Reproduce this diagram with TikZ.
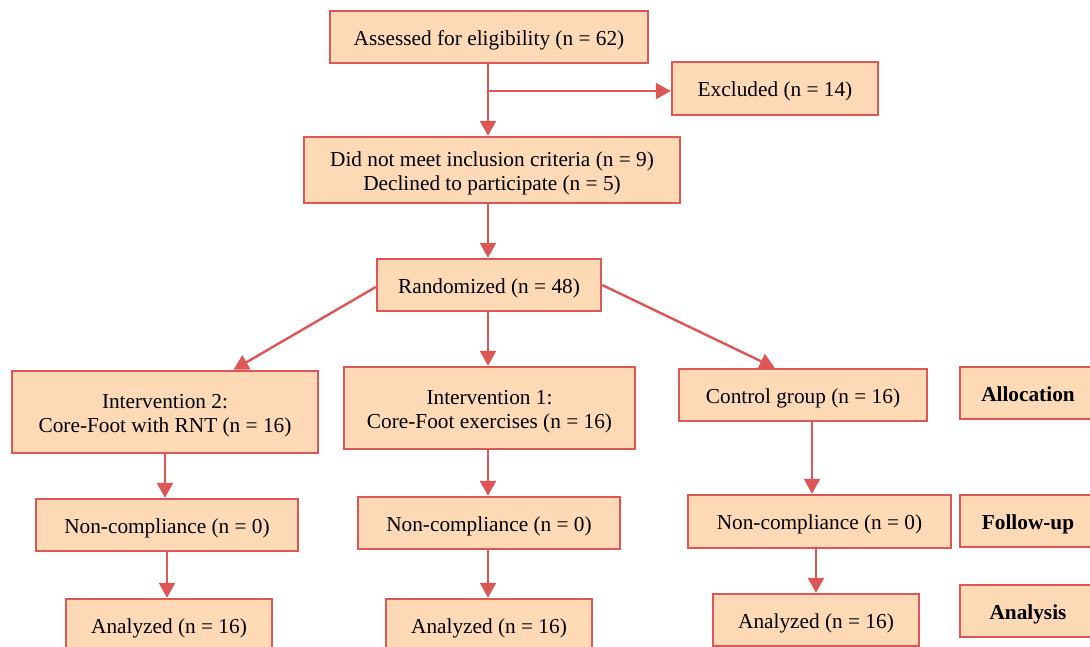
\documentclass[tikz,border=0pt]{standalone}
\usepackage{fontspec}
\setmainfont{Liberation Serif}
\usetikzlibrary{arrows.meta,calc}
\definecolor{boxfill}{HTML}{FDD9B6}
\definecolor{boxline}{HTML}{DE5656}
\newcommand\lw[1]{\raisebox{-3.5pt}[\height][\depth]{\begin{tabular}{@{}c@{}}#1\end{tabular}}}
\tikzset{
  box/.style={draw=boxline, fill=boxfill, line width=2.4pt, inner sep=0pt,
    font=\fontsize{21.3}{24.5}\selectfont},
  lab/.style={box, font=\fontsize{21.3}{24.5}\selectfont\bfseries},
  arr/.style={draw=boxline, line width=2.4pt, -{Triangle[length=15pt,width=16pt]}},
}
\begin{document}
\begin{tikzpicture}[x=1pt,y=-1pt]
\path[use as bounding box, clip] (0,0) rectangle (1090,646);
\node[box, minimum width=318pt, minimum height=52pt] (assess) at (489,37) {\lw{Assessed for eligibility (n = 62)}};
\node[box, minimum width=206pt, minimum height=53pt] (excl) at (775,88.5) {\lw{Excluded (n = 14)}};
\node[box, minimum width=376pt, minimum height=66pt] (dnm) at (492,170) {\lw{Did not meet inclusion criteria (n = 9)\\Declined to participate (n = 5)}};
\node[box, minimum width=224pt, minimum height=52pt] (rand) at (489,285) {\lw{Randomized (n = 48)}};
\node[box, minimum width=306pt, minimum height=82pt] (int2) at (165,412) {\lw{Intervention 2:\\Core-Foot with RNT (n = 16)}};
\node[box, minimum width=291pt, minimum height=82pt] (int1) at (489.5,408) {\lw{Intervention 1:\\Core-Foot exercises (n = 16)}};
\node[box, minimum width=248pt, minimum height=52pt] (ctrl) at (803,395) {\lw{Control group (n = 16)}};
\node[lab, minimum width=136pt, minimum height=52pt] (alloc) at (1028,393) {\lw{Allocation}};
\node[box, minimum width=262pt, minimum height=52pt] (ncl) at (167,525) {\lw{Non-compliance (n = 0)}};
\node[box, minimum width=262pt, minimum height=52pt] (ncm) at (489,523) {\lw{Non-compliance (n = 0)}};
\node[box, minimum width=263pt, minimum height=53pt] (ncr) at (819.5,521.5) {\lw{Non-compliance (n = 0)}};
\node[lab, minimum width=136pt, minimum height=52pt] (fu) at (1028,521) {\lw{Follow-up}};
\node[box, minimum width=206pt, minimum height=52pt] (anl) at (169,625) {\lw{Analyzed (n = 16)}};
\node[box, minimum width=206pt, minimum height=52pt] (anm) at (489,625) {\lw{Analyzed (n = 16)}};
\node[box, minimum width=206pt, minimum height=52pt] (anr) at (816,620) {\lw{Analyzed (n = 16)}};
\node[lab, minimum width=136pt, minimum height=52pt] (ana) at (1028,611) {\lw{Analysis}};
\coordinate (cx) at (812,0);
\coordinate (ax) at (488,0);
\coordinate (br) at (488,91);
% connectors
\draw[arr] (assess.south -| ax) -- (dnm.north -| ax);
\draw[arr] (br) -- (br -| excl.west);
\draw[arr] (dnm.south -| ax) -- (rand.north -| ax);
\draw[arr] (rand.south -| ax) -- (int1.north -| ax);
\draw[arr] ($(rand.west)+(0,2)$) -- ($(int2.north west)!0.722!(int2.north east)$);
\draw[arr] (rand.east) -- ($(ctrl.north west)!0.387!(ctrl.north east)$);
\draw[arr] (int2.south) -- (ncl.north -| int2.south);
\draw[arr] (int1.south -| ax) -- (ncm.north -| ax);
\draw[arr] (ctrl.south -| cx) -- (ncr.north -| cx);
\draw[arr] (ncl.south) -- (anl.north -| ncl.south);
\draw[arr] (ncm.south -| ax) -- (anm.north -| ax);
\draw[arr] (ncr.south -| anr.north) -- (anr.north);
\end{tikzpicture}
\end{document}
